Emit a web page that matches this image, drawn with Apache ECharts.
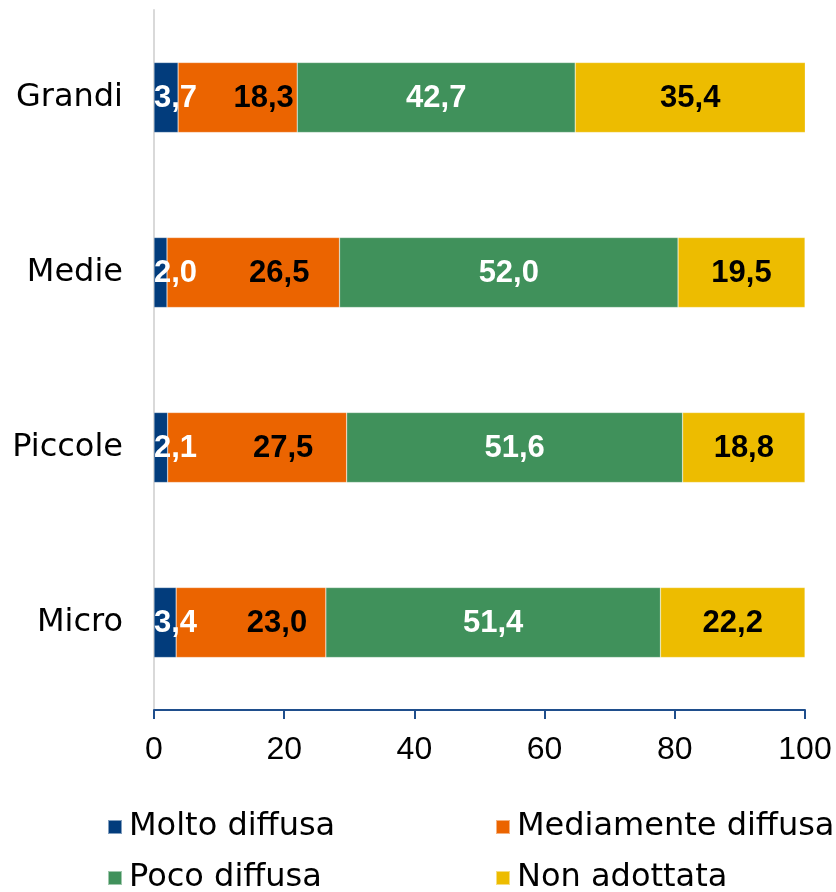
<!DOCTYPE html>
<html><head><meta charset="utf-8">
<script src="https://cdn.jsdelivr.net/npm/echarts@6/dist/echarts.min.js"></script>
<style>html,body{margin:0;padding:0;background:#fff}#c{width:836px;height:892px}</style>
</head><body><div id="c"></div>
<script>
const categories = ['Grandi', 'Medie', 'Piccole', 'Micro'];
const seriesNames = ['Molto diffusa', 'Mediamente diffusa', 'Poco diffusa', 'Non adottata'];
const molto = [3.7, 2.0, 2.1, 3.4];
const mediamente = [18.3, 26.5, 27.5, 23.0];
const poco = [42.7, 52.0, 51.6, 51.4];
const nonAdottata = [35.4, 19.5, 18.8, 22.2];
const xTicks = [0, 20, 40, 60, 80, 100];

const colors = ['#023C7C', '#EB6400', '#40915B', '#EDBC00'];
const labelColors = ['#fff', '#000', '#fff', '#000'];
const values = [molto, mediamente, poco, nonAdottata];
const fmt = p => p.value.toFixed(1).replace('.', ',');

const series = values.map((vals, i) => ({
  name: seriesNames[i],
  type: 'bar',
  stack: 'tot',
  barWidth: 70,
  data: vals,
  itemStyle: { color: colors[i], borderColor: 'rgba(255,255,255,0.5)', borderWidth: 0.5 },
  label: {
    show: true,
    position: i === 0 ? 'insideLeft' : 'inside',
    distance: 0,
    offset: i === 1 ? [26, 1] : [0, 1],
    formatter: fmt,
    color: labelColors[i],
    fontFamily: 'Liberation Sans, Arial, sans-serif',
    fontWeight: 'bold',
    fontSize: 31
  },
  emphasis: { disabled: true }
}));

const legendPos = [[107, 811], [495, 811], [107, 862], [495, 862]];
const legend = seriesNames.map((n, i) => ({
  data: [n],
  left: legendPos[i][0],
  top: legendPos[i][1],
  icon: 'rect',
  itemWidth: 14,
  itemHeight: 14,
  itemGap: 0,
  padding: 0,
  selectedMode: false,
  textStyle: { fontFamily: 'DejaVu Sans, sans-serif', fontSize: 32, color: '#000', padding: [0, 0, 0, 2] }
}));

const chart = echarts.init(document.getElementById('c'), null, { renderer: 'canvas' });
chart.setOption({
  animation: false,
  grid: { left: 154, right: 31, top: 10, height: 700, containLabel: false },
  legend: legend,
  xAxis: {
    type: 'value', min: 0, max: 100, interval: 20,
    axisLine: { show: true, lineStyle: { color: '#1F4E8C', width: 2 } },
    axisTick: { show: true, length: 9, lineStyle: { color: '#1F4E8C', width: 2 } },
    splitLine: { show: false },
    axisLabel: {
      margin: 24, color: '#000', fontSize: 32,
      fontFamily: 'Liberation Sans Narrow, Liberation Sans, sans-serif',
      formatter: v => xTicks.includes(v) ? String(v) : ''
    }
  },
  yAxis: {
    type: 'category', data: categories, inverse: true,
    axisLine: { show: true, lineStyle: { color: '#D9D9D9', width: 2 } },
    axisTick: { show: false },
    axisLabel: { margin: 31, color: '#000', fontSize: 32, fontFamily: 'DejaVu Sans, sans-serif', padding: [8, 0, 0, 0] }
  },
  series: series
});
</script></body></html>
